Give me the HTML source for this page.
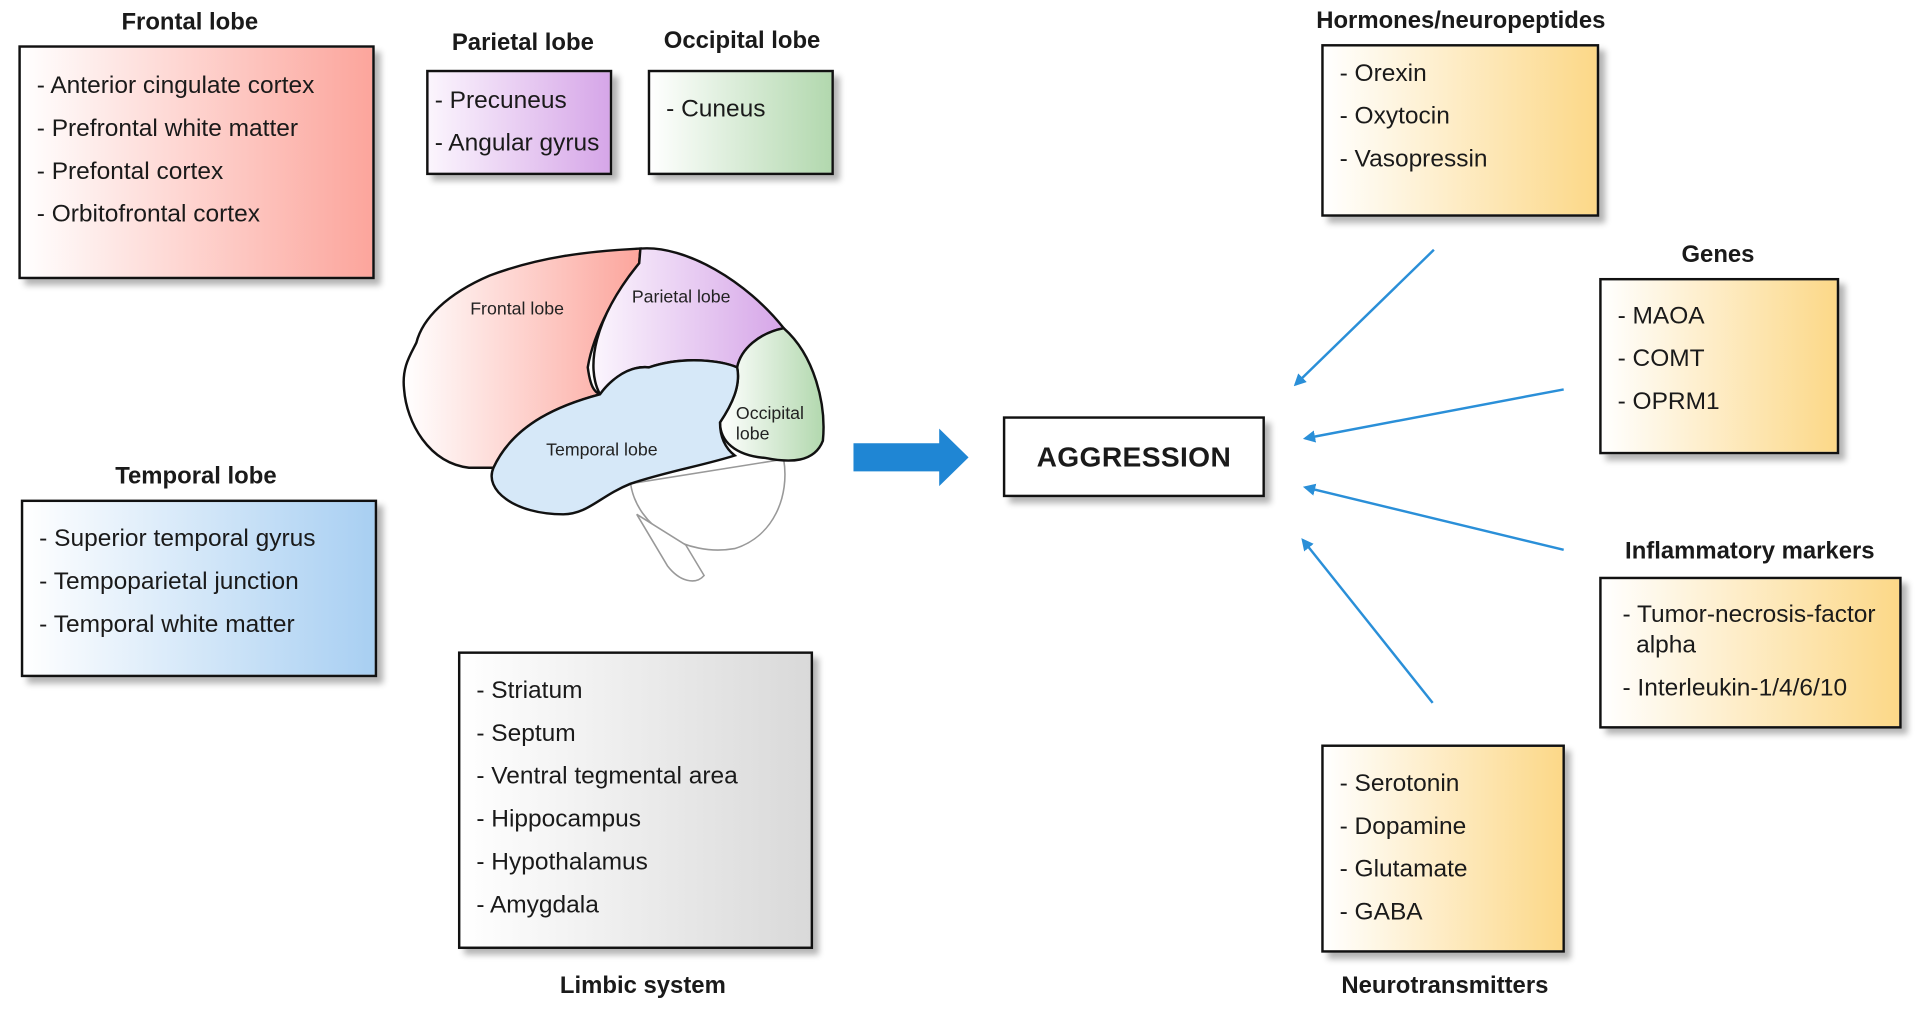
<!DOCTYPE html>
<html><head><meta charset="utf-8"><style>
html,body{margin:0;padding:0;background:#fff;width:1920px;height:1010px;overflow:hidden}
#s{position:absolute;left:0;top:0;width:1568px;height:825px;transform:scale(1.2245);transform-origin:0 0;font-family:"Liberation Sans",Arial,sans-serif;color:#1a1a1a}
.b{position:absolute;border:2px solid #111;box-shadow:5px 5px 5px rgba(0,0,0,.3);box-sizing:border-box;font-size:20px;line-height:35px;padding:14px 0 0 13px}
.t{position:absolute;font-weight:bold;font-size:19.5px;transform:translateX(-50%);white-space:nowrap}
svg{position:absolute;left:0;top:0}
</style></head><body><div id="s">
<div class="t" style="left:155px;top:7px">Frontal lobe</div>
<div class="b" style="left:15px;top:37px;width:291px;height:191px;background:linear-gradient(90deg,#fff,#fca59c)">- Anterior cingulate cortex<br>- Prefrontal white matter<br>- Prefontal cortex<br>- Orbitofrontal cortex</div>
<div class="t" style="left:427px;top:24px">Parietal lobe</div>
<div class="b" style="left:348px;top:57px;width:152px;height:86px;padding:6px 0 0 5px;background:linear-gradient(90deg,#fbf5fd,#d6a6e8)">- Precuneus<br>- Angular gyrus</div>
<div class="t" style="left:606px;top:22px">Occipital lobe</div>
<div class="b" style="left:529px;top:57px;width:152px;height:86px;padding:13px 0 0 13px;background:linear-gradient(90deg,#fff,#b2d8ae)">- Cuneus</div>
<div class="t" style="left:160px;top:378px">Temporal lobe</div>
<div class="b" style="left:17px;top:408px;width:291px;height:145px;padding-top:13px;background:linear-gradient(90deg,#fff,#a8cff2)">- Superior temporal gyrus<br>- Tempoparietal junction<br>- Temporal white matter</div>
<div class="b" style="left:374px;top:532px;width:290px;height:243px;padding-top:13px;background:linear-gradient(90deg,#fff,#d9d9d9)">- Striatum<br>- Septum<br>- Ventral tegmental area<br>- Hippocampus<br>- Hypothalamus<br>- Amygdala</div>
<div class="t" style="left:525px;top:794px">Limbic system</div>
<div class="t" style="left:1193px;top:6px">Hormones/neuropeptides</div>
<div class="b" style="left:1079px;top:36px;width:227px;height:141px;padding-top:5px;background:linear-gradient(90deg,#fff,#fcd888)">- Orexin<br>- Oxytocin<br>- Vasopressin</div>
<div class="t" style="left:1403px;top:197px">Genes</div>
<div class="b" style="left:1306px;top:227px;width:196px;height:144px;padding-top:12px;background:linear-gradient(90deg,#fff,#fcd888)">- MAOA<br>- COMT<br>- OPRM1</div>
<div class="t" style="left:1429px;top:439px">Inflammatory markers</div>
<div class="b" style="left:1306px;top:471px;width:247px;height:124px;padding:17px 0 0 17px;line-height:25px;background:linear-gradient(90deg,#fff,#fcd888)">- Tumor-necrosis-factor<br>&nbsp;&nbsp;alpha<div style="height:10px"></div>- Interleukin-1/4/6/10</div>
<div class="b" style="left:1079px;top:608px;width:199px;height:170px;padding-top:13px;background:linear-gradient(90deg,#fff,#fcd888)">- Serotonin<br>- Dopamine<br>- Glutamate<br>- GABA</div>
<div class="t" style="left:1180px;top:794px">Neurotransmitters</div>
<div class="b" style="left:819px;top:340px;width:214px;height:66px;padding:0;line-height:62px;text-align:center;font-weight:bold;font-size:23px;letter-spacing:.3px">AGGRESSION</div>
<svg width="1568" height="825">
<defs>
<linearGradient id="gf" x1="0" x2="1"><stop offset="0" stop-color="#fff"/><stop offset="1" stop-color="#fca59c"/></linearGradient>
<linearGradient id="gp" x1="0" x2="1"><stop offset="0" stop-color="#fbf5fd"/><stop offset="1" stop-color="#d6a6e8"/></linearGradient>
<linearGradient id="go" x1="0" x2="1"><stop offset="0" stop-color="#fff"/><stop offset="1" stop-color="#b2d8ae"/></linearGradient>
<marker id="ar" markerWidth="10" markerHeight="10" refX="8" refY="5" orient="auto" markerUnits="userSpaceOnUse"><path d="M0,0 L10,5 L0,10 Z" fill="#2a8fd8"/></marker>
</defs>
<g stroke="#111" stroke-width="2">
<path d="M515,395 C520,430 560,455 600,448 C632,438 645,405 640,375 Z" fill="#fff" stroke="#999" stroke-width="1.3"/>
<path d="M520,420 L545,462 C555,475 568,478 575,470 L560,445 Z" fill="#fff" stroke="#999" stroke-width="1.3"/>
<path d="M383,382 C350,378 332,345 330,318 C328,300 335,290 340,280 C345,260 365,240 400,225 C440,210 480,205 523,203 L522,215 C505,235 485,270 480,300 C482,315 485,320 490,322 C460,330 420,345 403,382 Z" fill="url(#gf)"/>
<path d="M523,203 C560,200 610,230 640,268 C620,272 605,285 602,300 C590,295 560,290 530,300 C510,298 495,315 490,322 C478,300 485,260 522,215 Z" fill="url(#gp)"/>
<path d="M640,268 C665,290 675,330 672,360 C665,378 645,378 625,374 C600,372 588,360 588,345 C598,330 605,315 602,300 C605,285 620,272 640,268 Z" fill="url(#go)"/>
<path d="M490,322 C495,315 510,298 530,300 C560,290 590,295 602,300 C605,315 598,330 588,345 C588,360 595,368 600,372 C575,380 545,385 515,395 C490,405 480,420 460,420 C420,420 395,400 403,382 C420,345 460,330 490,322 Z" fill="#d6e8f8"/>
</g>
<g font-size="14.5" fill="#222">
<text x="384" y="257">Frontal lobe</text><text x="516" y="247">Parietal lobe</text>
<text x="446" y="372">Temporal lobe</text><text x="601" y="342">Occipital</text><text x="601" y="359">lobe</text>
</g>
<path d="M697,362 L767,362 L767,350 L791,373.5 L767,397 L767,385 L697,385 Z" fill="#1f86d4"/>
<g stroke="#2a8fd8" stroke-width="2" marker-end="url(#ar)">
<line x1="1171" y1="204" x2="1058" y2="314"/>
<line x1="1277" y1="318" x2="1066" y2="358"/>
<line x1="1277" y1="449" x2="1066" y2="398"/>
<line x1="1170" y1="574" x2="1064" y2="441"/>
</g>
</svg>
</div></body></html>
